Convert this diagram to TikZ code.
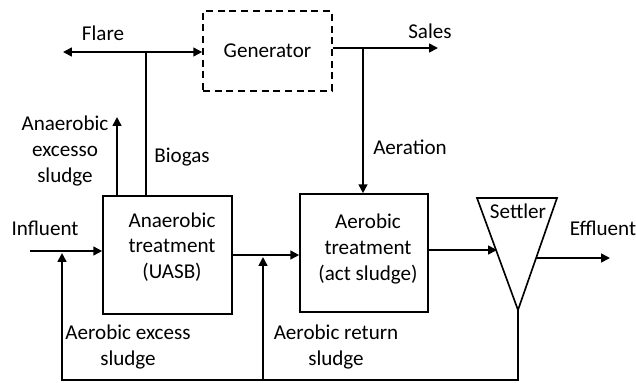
\documentclass[tikz,border=0pt]{standalone}
\usepackage{fontspec}
\setmainfont{Carlito}
\usetikzlibrary{arrows.meta}
\tikzset{
  unit/.style={draw, line width=1.4pt, minimum width=3.87cm, minimum height=3.54cm},
  flow/.style={line width=1.4pt, -{Triangle[length=7.5pt,width=7.5pt]}},
  pipe/.style={line width=1.4pt},
  lbl/.style={align=center, inner sep=0pt},
}
\begin{document}
\begin{tikzpicture}[x=0.03cm, y=-0.03cm, font=\fontsize{18}{22}\selectfont]
				\useasboundingbox (0,0) rectangle (636,382);
				% units
				\node[unit] (anaer) at (167.5,255) {};
				\node[lbl] (anaertxt) at (172,247) {Anaerobic\\treatment\\(UASB)};
				\node[unit, minimum width=3.84cm] (aer) at (364,253) {};
				\node[lbl] (aertxt) at (368,249) {Aerobic\\treatment\\(act sludge)};
				\node[draw, dash pattern=on 6pt off 4pt, line width=1.4pt, minimum width=3.87cm, minimum height=2.4cm] (gen) at (267.5,51) {Generator};
				\coordinate (stl) at (477,198);
				\coordinate (str) at (557,198);
				\coordinate (stb) at (518,310);
				\draw[pipe] (stl) -- (str) -- (stb) -- cycle;
				\node[lbl] (settler) at (518,211) {Settler};

				% gas side
				\coordinate (bio) at (146,52);
				\coordinate (flare) at (63,52);
				\coordinate (excess) at (117,117);
				\draw[pipe] (anaer.north -| bio) -- (bio);
				\draw[flow] (bio) -- (flare);
				\draw[flow] (bio) -- (gen.west |- bio);
				\draw[flow] (anaer.north -| excess) -- (excess);
				\coordinate (split) at (363,48);
				\coordinate (sales) at (438,48);
				\draw[pipe] (gen.east |- split) -- (split);
				\draw[flow] (split) -- (sales);
				\draw[flow] (split) -- (aer.north -| split);

				% water side
				\coordinate (influent) at (30,251);
				\coordinate (effluent) at (610,258);
				\draw[flow] (influent) -- (anaer.west |- influent);
				\draw[flow] (anaer.east) -- (aer.west |- anaer.east);
				\draw[flow] (aer.east |- 0,250) -- (497,250);
				\draw[flow] (536,258) -- (effluent);

				% sludge returns
				\coordinate (retr) at (518,380);
				\coordinate (retl) at (62,380);
				\coordinate (retm) at (263,380);
				\draw[flow] (stb) -- (retr) -- (retl) -- (62,253);
				\draw[flow] (retm) -- (263,257);

				% labels
				\node[lbl] (flarel) at (103,33) {Flare};
				\node[lbl] (salesl) at (430,31) {Sales};
				\node[lbl] (aeration) at (410,147) {Aeration};
				\node[lbl] (biogas) at (182,157) {Biogas};
				\node[lbl] (anexc) at (65,151) {Anaerobic\\excesso\\sludge};
				\node[lbl] (infll) at (45,228) {Influent};
				\node[lbl] (effl) at (603,228) {Effluent};
				\node[lbl] (aeexc) at (128,347) {Aerobic excess\\sludge};
				\node[lbl] (aeret) at (336,347) {Aerobic return\\sludge};

			\end{tikzpicture}
\end{document}
